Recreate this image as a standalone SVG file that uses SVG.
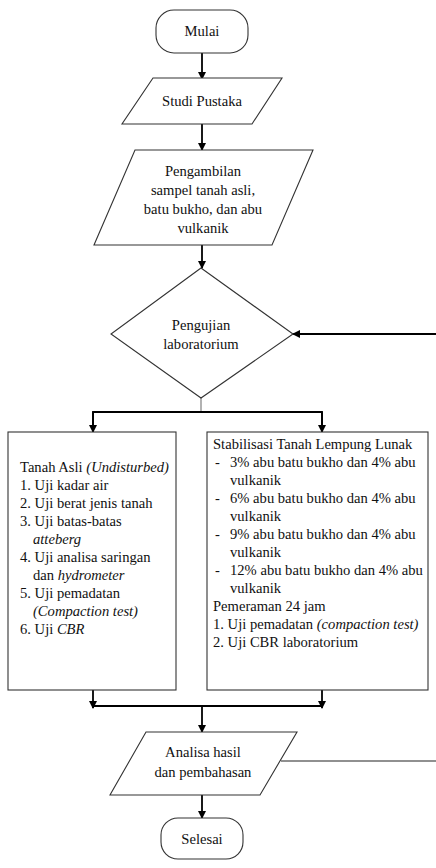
<svg xmlns="http://www.w3.org/2000/svg" width="436" height="868" viewBox="0 0 436 868">
<defs>
<marker id="ah" markerWidth="8" markerHeight="8" refX="7" refY="4" orient="auto" markerUnits="userSpaceOnUse">
<path d="M0,0 L8,4 L0,8 Z" fill="#000"/>
</marker>
</defs>
<style>
.s{fill:#fff;stroke:#333;stroke-width:1.1}
.c{text-anchor:middle}
.i{font-style:italic}
.k{fill:none;stroke:#000;stroke-width:1.8}
.a{marker-end:url(#ah)}
</style>
<rect width="436" height="868" fill="#fff"/>
<g id="connectors">
<line class="k a" x1="202" y1="53" x2="202" y2="79"/>
<line class="k a" x1="202" y1="124" x2="202" y2="150"/>
<line class="k a" x1="202" y1="245" x2="202" y2="268"/>
<line x1="201" y1="398" x2="201" y2="412" stroke="#999" stroke-width="1.5"/>
<polyline class="k" points="93,432 93,412 322,412 322,432"/>
<line class="k a" x1="93" y1="412" x2="93" y2="432"/>
<line class="k a" x1="322" y1="412" x2="322" y2="432"/>
<line class="k a" x1="93" y1="690" x2="93" y2="708"/>
<line class="k a" x1="322" y1="690" x2="322" y2="708"/>
<line class="k" x1="93" y1="706" x2="322" y2="706"/>
<line class="k a" x1="202" y1="706" x2="202" y2="732"/>
<line class="k a" x1="202" y1="795" x2="202" y2="818"/>
<line class="k a" x1="436" y1="334" x2="293" y2="334"/>
<line x1="281" y1="761" x2="436" y2="761" stroke="#222" stroke-width="1.2"/>
</g>
<g id="nodes" font-family="Liberation Serif" font-size="14.6" fill="#111">
<g id="mulai">
<rect class="s" x="156" y="10" width="92" height="43" rx="18"/>
<text font-family="Liberation Serif" class="c" x="202" y="36">Mulai</text>
</g>
<g id="studi">
<polygon class="s" points="153,78 282,78 252,124 122,124"/>
<text font-family="Liberation Serif" class="c" x="202" y="106">Studi Pustaka</text>
</g>
<g id="pengambilan">
<polygon class="s" points="135,150 313,150 272,245 94,245"/>
<text font-family="Liberation Serif" class="c" x="203" y="176">Pengambilan</text>
<text font-family="Liberation Serif" class="c" x="203" y="195">sampel tanah asli,</text>
<text font-family="Liberation Serif" class="c" x="203" y="214">batu bukho, dan abu</text>
<text font-family="Liberation Serif" class="c" x="203" y="233">vulkanik</text>
</g>
<g id="pengujian">
<polygon class="s" points="201,268 293,334 201,398 111,334"/>
<text font-family="Liberation Serif" class="c" x="201" y="330">Pengujian</text>
<text font-family="Liberation Serif" class="c" x="201" y="349">laboratorium</text>
</g>
<g id="tanahasli">
<rect class="s" x="8" y="432" width="168" height="258"/>
<text font-family="Liberation Serif" x="20" y="472">Tanah Asli <tspan class="i">(Undisturbed)</tspan></text>
<text font-family="Liberation Serif" x="20" y="490">1. Uji kadar air</text>
<text font-family="Liberation Serif" x="20" y="508">2. Uji berat jenis tanah</text>
<text font-family="Liberation Serif" x="20" y="526">3. Uji batas-batas</text>
<text font-family="Liberation Serif" class="i" x="33" y="544">atteberg</text>
<text font-family="Liberation Serif" x="20" y="562">4. Uji analisa saringan</text>
<text font-family="Liberation Serif" x="33" y="580">dan  <tspan class="i">hydrometer</tspan></text>
<text font-family="Liberation Serif" x="20" y="598">5. Uji pemadatan</text>
<text font-family="Liberation Serif" class="i" x="33" y="616">(Compaction test)</text>
<text font-family="Liberation Serif" x="20" y="634">6. Uji <tspan class="i">CBR</tspan></text>
</g>
<g id="stabilisasi">
<rect class="s" x="207" y="432" width="221" height="258"/>
<text font-family="Liberation Serif" x="213" y="449">Stabilisasi Tanah Lempung Lunak</text>
<text font-family="Liberation Serif" x="215" y="467">-</text>
<text font-family="Liberation Serif" x="230" y="467">3% abu batu bukho dan 4% abu</text>
<text font-family="Liberation Serif" x="230" y="485">vulkanik</text>
<text font-family="Liberation Serif" x="215" y="503">-</text>
<text font-family="Liberation Serif" x="230" y="503">6% abu batu bukho dan 4% abu</text>
<text font-family="Liberation Serif" x="230" y="521">vulkanik</text>
<text font-family="Liberation Serif" x="215" y="539">-</text>
<text font-family="Liberation Serif" x="230" y="539">9% abu batu bukho dan 4% abu</text>
<text font-family="Liberation Serif" x="230" y="557">vulkanik</text>
<text font-family="Liberation Serif" x="215" y="575">-</text>
<text font-family="Liberation Serif" x="230" y="575">12% abu batu bukho dan 4% abu</text>
<text font-family="Liberation Serif" x="230" y="593">vulkanik</text>
<text font-family="Liberation Serif" x="213" y="611">Pemeraman 24 jam</text>
<text font-family="Liberation Serif" x="213" y="629">1. Uji pemadatan <tspan class="i">(compaction test)</tspan></text>
<text font-family="Liberation Serif" x="213" y="647">2. Uji CBR laboratorium</text>
</g>
<g id="analisa">
<polygon class="s" points="146,732 297,732 260,795 110,795"/>
<text font-family="Liberation Serif" class="c" x="203" y="757">Analisa hasil</text>
<text font-family="Liberation Serif" class="c" x="203" y="777">dan pembahasan</text>
</g>
<g id="selesai">
<rect class="s" x="161" y="818" width="82" height="41" rx="17"/>
<text font-family="Liberation Serif" class="c" x="202" y="844">Selesai</text>
</g>
</g>
</svg>
